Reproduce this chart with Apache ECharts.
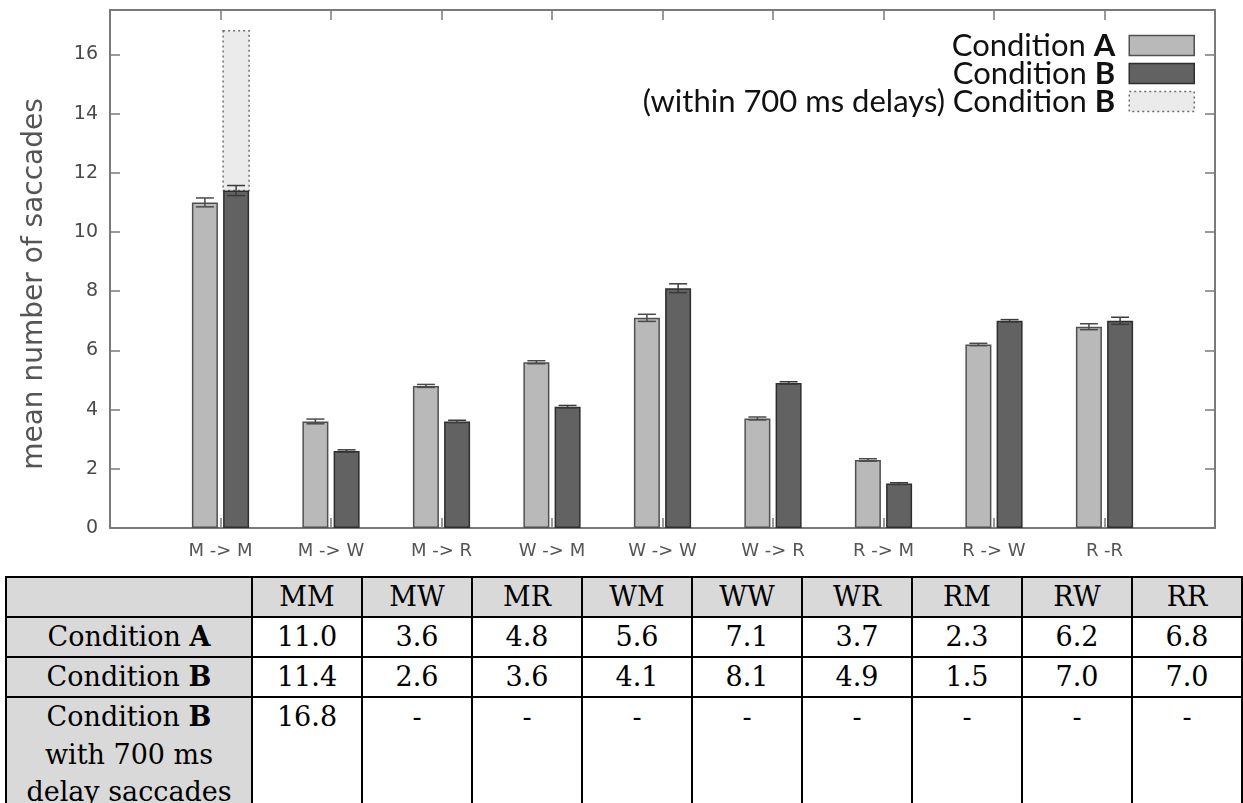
<!DOCTYPE html>
<html>
<head>
<meta charset="utf-8">
<script src="https://cdn.jsdelivr.net/npm/echarts@6/dist/echarts.min.js"></script>
<style>
  html, body { margin: 0; padding: 0; background: #fff; }
  #chart { position: absolute; left: 0; top: 0; width: 1243px; height: 570px; }
  #tbl { position: absolute; left: 5px; top: 576px; border-collapse: collapse;
         font-family: "DejaVu Serif", "Liberation Serif", serif; font-size: 27px; color: #000; }
  #tbl td { border: 2px solid #000; text-align: center; padding: 0; height: 38px; line-height: 38px; }
  #tbl td.first { width: 244px; background: #d9d9d9; }
  #tbl td.val { width: 108px; }
  #tbl tr.head td { background: #d9d9d9; }
  #tbl td.multi { line-height: 37.5px; vertical-align: top; }
</style>
</head>
<body>
<div id="chart"></div>
<table id="tbl"></table>
<script>
// ---- data ----
const categories = ['M -> M', 'M -> W', 'M -> R', 'W -> M', 'W -> W', 'W -> R', 'R -> M', 'R -> W', 'R -R'];
const tableHeaders = ['MM', 'MW', 'MR', 'WM', 'WW', 'WR', 'RM', 'RW', 'RR'];
const condA = [11.0, 3.6, 4.8, 5.6, 7.1, 3.7, 2.3, 6.2, 6.8];
const condB = [11.4, 2.6, 3.6, 4.1, 8.1, 4.9, 1.5, 7.0, 7.0];
const condBDelay = [16.8, null, null, null, null, null, null, null, null];
const errA = [0.15, 0.08, 0.05, 0.05, 0.12, 0.05, 0.04, 0.04, 0.10];
const errB = [0.17, 0.04, 0.04, 0.04, 0.15, 0.04, 0.03, 0.04, 0.12];
const seriesNames = ['Condition A', 'Condition B', '(within 700 ms delays) Condition B'];
const rowLabels = ['Condition A', 'Condition B', 'Condition B\nwith 700 ms\ndelay saccades'];

// ---- chart ----
const BAR_W = 26;
const GAP = 0.2;
const OFF = BAR_W * (1 + GAP) / 2;

const styleA = { color: '#b9b9b9', borderColor: '#505050', borderWidth: 1.5 };
const styleB = { color: '#626262', borderColor: '#2e2e2e', borderWidth: 1.5 };
const styleC = { color: '#ebebeb', borderColor: '#6e6e6e', borderWidth: 1.5, borderType: [2, 3] };

function errSeries(vals, errs, dx, color, axisIdx) {
  return {
    type: 'custom',
    z: 5,
    silent: true,
    xAxisIndex: axisIdx, yAxisIndex: axisIdx,
    data: vals.map((v, i) => [i + 1, v, errs[i]]),
    renderItem: function (params, api) {
      const x = api.value(0), y = api.value(1), e = api.value(2);
      const top = api.coord([x, y + e]);
      const bot = api.coord([x, y - e]);
      const cx = top[0] + dx;
      const cap = 9;
      const st = { stroke: color, lineWidth: 1.5 };
      return {
        type: 'group',
        children: [
          { type: 'line', shape: { x1: cx, y1: top[1], x2: cx, y2: bot[1] }, style: st },
          { type: 'line', shape: { x1: cx - cap, y1: top[1], x2: cx + cap, y2: top[1] }, style: st },
          { type: 'line', shape: { x1: cx - cap, y1: bot[1], x2: cx + cap, y2: bot[1] }, style: st }
        ]
      };
    }
  };
}

const axisGray = '#7a7a7a';
const tickStyle = { show: true, inside: true, length: 10, lineStyle: { color: axisGray, width: 1.5 } };
const chart = echarts.init(document.getElementById('chart'));
chart.setOption({
  animation: false,
  backgroundColor: '#fff',
  grid: { left: 110, right: 28, top: 10, bottom: 42, containLabel: false },
  legend: {
    orient: 'vertical',
    right: 48,
    top: 30,
    padding: 0,
    align: 'right',
    itemWidth: 65,
    itemHeight: 20,
    itemGap: -3,
    selectedMode: false,
    data: [
      { name: seriesNames[0], icon: 'rect', itemStyle: styleA },
      { name: seriesNames[1], icon: 'rect', itemStyle: styleB },
      { name: seriesNames[2], icon: 'rect', itemStyle: styleC }
    ],
    formatter: function (name) { return name.replace(/ (A|B)$/, ' {b|$1}'); },
    textStyle: {
      fontFamily: 'Lato', fontSize: 31, lineHeight: 28, color: '#111', padding: [0, 9, 0, 0],
      rich: { b: { fontFamily: 'Lato', fontSize: 31, lineHeight: 28, fontWeight: 'bold', color: '#111' } }
    }
  },
  xAxis: [
    {
      type: 'value', min: 0, max: 10, interval: 1, position: 'bottom',
      splitLine: { show: false },
      axisLine: { show: true, onZero: false, lineStyle: { color: axisGray, width: 2 } },
      axisTick: tickStyle,
      axisLabel: {
        margin: 14, fontFamily: 'DejaVu Sans', fontSize: 18, color: '#555',
        formatter: function (v) { return (v >= 1 && v <= categories.length) ? categories[v - 1] : ''; }
      }
    },
    {
      type: 'value', min: 0, max: 10, interval: 1, position: 'top',
      splitLine: { show: false },
      axisLine: { show: true, onZero: false, lineStyle: { color: axisGray, width: 2 } },
      axisTick: tickStyle,
      axisLabel: { show: false }
    }
  ],
  yAxis: [
    {
      type: 'value', min: 0, max: 17.5, interval: 2, position: 'left',
      name: 'mean number of saccades', nameLocation: 'middle', nameGap: 61,
      nameTextStyle: { fontFamily: 'DejaVu Sans', fontSize: 28, color: '#555', padding: [0, 30, 0, 0] },
      splitLine: { show: false },
      axisLine: { show: true, onZero: false, lineStyle: { color: axisGray, width: 2 } },
      axisTick: tickStyle,
      axisLabel: {
        margin: 12, fontFamily: 'DejaVu Sans', fontSize: 19, color: '#4a4a4a',
        formatter: function (v) { return v > 16 ? '' : String(v); }
      }
    },
    {
      type: 'value', min: 0, max: 17.5, interval: 2, position: 'right',
      splitLine: { show: false },
      axisLine: { show: true, onZero: false, lineStyle: { color: axisGray, width: 2 } },
      axisTick: tickStyle,
      axisLabel: { show: false }
    }
  ],
  series: [
    {
      name: seriesNames[0], type: 'bar', barWidth: BAR_W, barGap: (GAP * 100) + '%',
      data: condA.map((v, i) => [i + 1, v]),
      itemStyle: styleA
    },
    {
      name: seriesNames[1], type: 'bar', barWidth: BAR_W, z: 3,
      data: condB.map((v, i) => [i + 1, v]),
      itemStyle: styleB
    },
    {
      name: seriesNames[2], type: 'custom', z: 2,
      xAxisIndex: 1, yAxisIndex: 1,
      itemStyle: styleC,
      data: condBDelay.map((v, i) => v == null ? [i + 1, '-', '-'] : [i + 1, condB[i], v]),
      renderItem: function (params, api) {
        const lo = api.value(1), hi = api.value(2);
        if (isNaN(lo) || isNaN(hi)) return null;
        const p0 = api.coord([api.value(0), lo]);
        const p1 = api.coord([api.value(0), hi]);
        return {
          type: 'rect',
          shape: { x: p0[0] + OFF - BAR_W / 2, y: p1[1], width: BAR_W, height: p0[1] - p1[1] },
          style: { fill: styleC.color, stroke: styleC.borderColor, lineWidth: 1.5, lineDash: [2, 3] }
        };
      }
    },
    errSeries(condA, errA, -OFF, '#4a4a4a', 0),
    errSeries(condB, errB, OFF, '#3a3a3a', 1)
  ]
});

// ---- table ----
function fmt(v) { return v == null ? '-' : v.toFixed(1); }
function rich(label) {
  return label.split('\n').map(l => l.replace(/ (A|B)$/, ' <b>$1</b>')).join('<br>');
}
const tbl = document.getElementById('tbl');
let html = '<tr class="head"><td class="first"></td>' + tableHeaders.map(h => '<td class="val">' + h + '</td>').join('') + '</tr>';
const rows = [condA, condB, condBDelay];
rows.forEach((r, k) => {
  const multi = rowLabels[k].indexOf('\n') >= 0;
  html += '<tr><td class="first' + (multi ? ' multi' : '') + '">' + rich(rowLabels[k]) + '</td>' +
    r.map(v => '<td class="val' + (multi ? ' multi' : '') + '">' + fmt(v) + '</td>').join('') + '</tr>';
});
tbl.innerHTML = html;
</script>
</body>
</html>
